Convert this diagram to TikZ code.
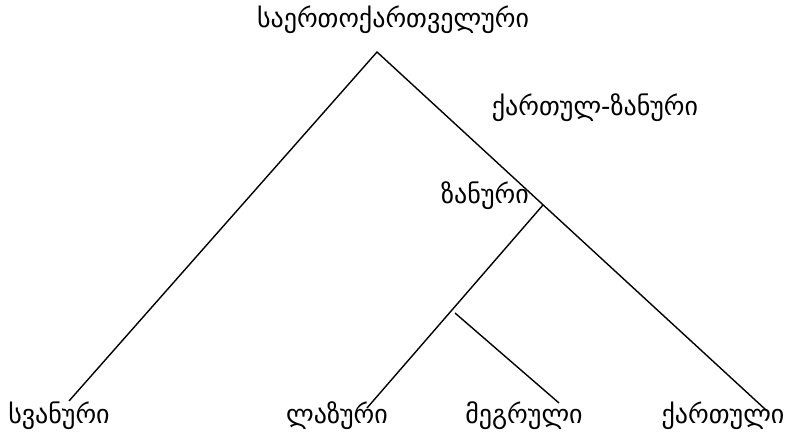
\documentclass[tikz,border=0pt]{standalone}
\usepackage{fontspec}
\setmainfont{DejaVu Sans}
\begin{document}
\begin{tikzpicture}[x=1pt,y=-1pt,
  lbl/.style={inner sep=0pt,anchor=base,font=\fontsize{26}{30}\selectfont},
  edge/.style={draw=black,line width=1.4pt}]
\useasboundingbox (0,0) rectangle (802,441);
% labels
\node[lbl] (root) at (393,28) {საერთოქართველური};
\node[lbl] (kz) at (595,115) {ქართულ-ზანური};
\node[lbl] (zan) at (485,203) {ზანური};
\node[lbl] (svan) at (59,423) {სვანური};
\node[lbl] (laz) at (337,423) {ლაზური};
\node[lbl] (megr) at (524,423) {მეგრული};
\node[lbl] (kart) at (723,423) {ქართული};
% tree points
\coordinate (apex) at (377,52);
\coordinate (svanend) at (69,401);
\coordinate (kartend) at (766,410);
\coordinate (zanj) at (543,205);
\coordinate (lazend) at (367,408);
\coordinate (megrj) at (455,313);
\coordinate (megrend) at (559,403);
\draw[edge] (svanend) -- (apex) -- (kartend);
\draw[edge] (zanj) -- (lazend);
\draw[edge] (megrj) -- (megrend);
\end{tikzpicture}
\end{document}
